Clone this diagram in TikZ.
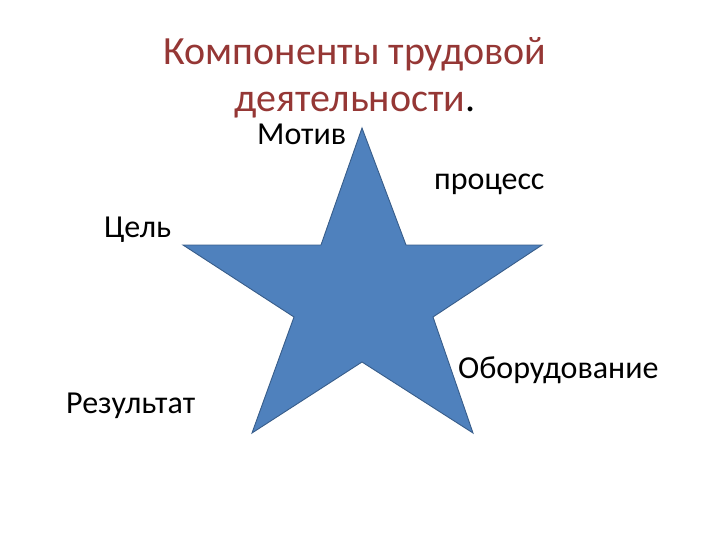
\documentclass[tikz,border=0pt]{standalone}
\usepackage{fontspec}
\setmainfont{Carlito}
\usepackage{xcolor}
\usetikzlibrary{positioning}
\definecolor{titlered}{RGB}{149,55,53}
\definecolor{starfill}{RGB}{79,129,189}
\definecolor{starline}{RGB}{56,93,138}

\begin{document}
\begin{tikzpicture}[x=1pt,y=1pt,yscale=-1,xscale=1]
\useasboundingbox (0,0) rectangle (720,540);

%Shape: Star
\draw [color=starline,fill=starfill,line width=0.9pt,line join=miter]
  (362,128) -- (406,245) -- (542,245) -- (433,317) -- (473,433) -- (362,362)
  -- (252,433) -- (294,317) -- (183,245) -- (321,245) -- cycle ;

% Title
\draw (355,112) node (title) [anchor=base][inner sep=0pt][align=center]
  [font=\fontsize{40}{47}\selectfont,text=titlered]
  {Компоненты трудовой\\деятельности\textcolor{black}{.}};

% Text Node
\draw (257,145) node (motiv) [anchor=base west][inner sep=0pt][font=\fontsize{32}{38}\selectfont] {Мотив};
% Text Node
\draw (434,190) node (process) [anchor=base west][inner sep=0pt][font=\fontsize{32}{38}\selectfont] {процесс};
% Text Node
\draw (104,237) node (cel) [anchor=base west][inner sep=0pt][font=\fontsize{32}{38}\selectfont] {Цель};
% Text Node
\draw (458,378) node (oborud) [anchor=base west][inner sep=0pt][font=\fontsize{32}{38}\selectfont] {Оборудование};
% Text Node
\draw (66,413) node (rezult) [anchor=base west][inner sep=0pt][font=\fontsize{32}{38}\selectfont] {Результат};

\end{tikzpicture}
\end{document}
